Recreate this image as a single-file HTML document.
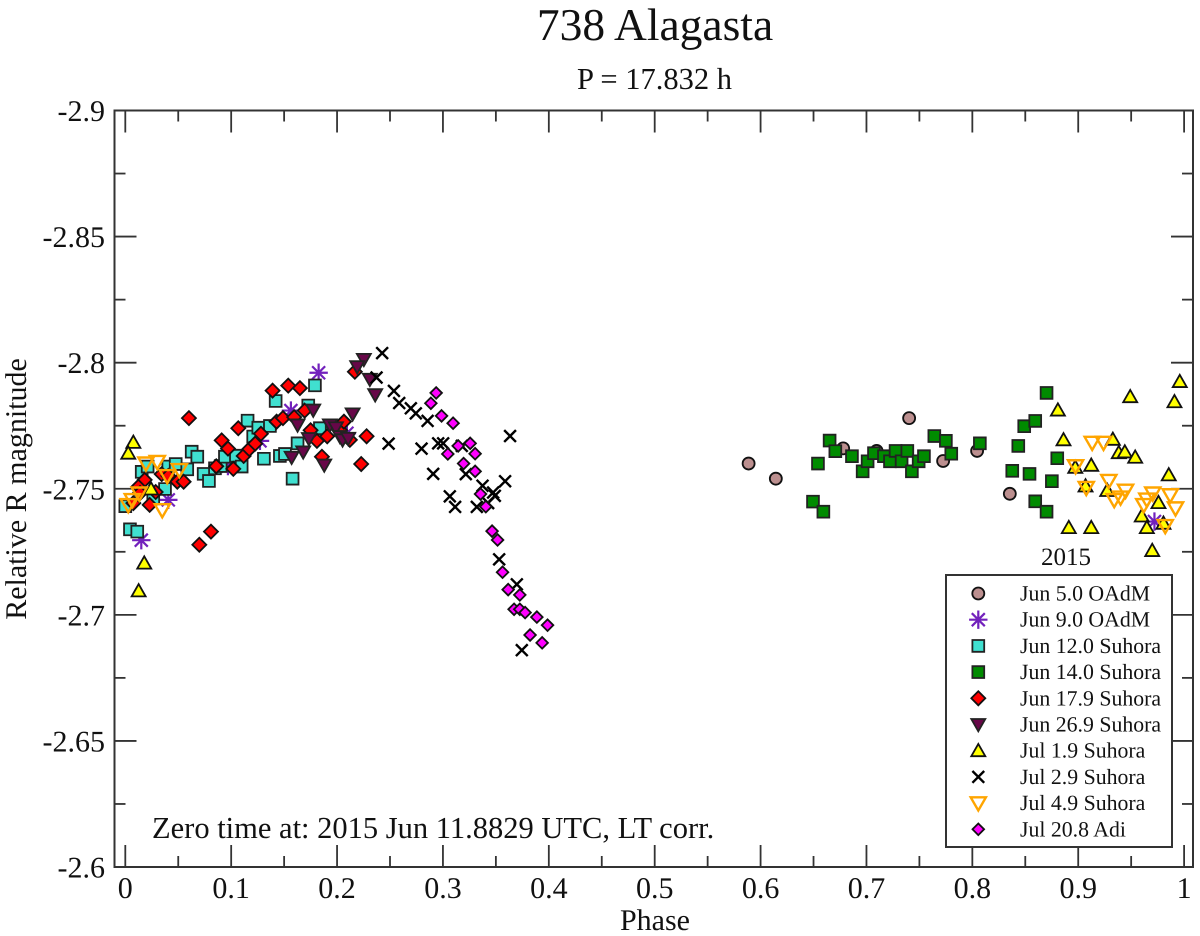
<!DOCTYPE html>
<html lang="en">
<head>
<meta charset="utf-8">
<title>738 Alagasta</title>
<style>
html,body{margin:0;padding:0;background:#fff;}
#chart{display:block;width:1200px;height:936px;}
text{font-family:"Liberation Serif",serif;fill:#111;text-rendering:geometricPrecision;}
</style>
</head>
<body>
<svg id="chart" xmlns="http://www.w3.org/2000/svg" width="1200" height="936" viewBox="0 0 1200 936">
<text x="655" y="40" font-size="45.5" text-anchor="middle">738 Alagasta</text>
<text x="654.5" y="89" font-size="30.5" text-anchor="middle" id="sub">P = 17.832 h</text>
<text x="655" y="930" font-size="30" text-anchor="middle">Phase</text>
<text x="0" y="0" font-size="30" text-anchor="middle" transform="translate(26 489) rotate(-90)">Relative R magnitude</text>
<text x="152" y="838" font-size="30.5">Zero time at: 2015 Jun 11.8829 UTC, LT corr.</text>
<text x="1066" y="565" font-size="25" text-anchor="middle">2015</text>
<g id="axes"></g>
<g id="marks"></g>
<g id="legend"><rect x="946" y="575" width="226" height="272" fill="#fff" stroke="#333" stroke-width="2"/></g>
</svg>
<script>
const xMajorTicks = [0, 0.1, 0.2, 0.3, 0.4, 0.5, 0.6, 0.7, 0.8, 0.9, 1];
const xTickLabels = ["0", "0.1", "0.2", "0.3", "0.4", "0.5", "0.6", "0.7", "0.8", "0.9", "1"];
const xMinorTicks = [0.05, 0.15, 0.25, 0.35, 0.45, 0.55, 0.65, 0.75, 0.85, 0.95];
const yMajorTicks = [-2.9, -2.85, -2.8, -2.75, -2.7, -2.65, -2.6];
const yTickLabels = ["-2.9", "-2.85", "-2.8", "-2.75", "-2.7", "-2.65", "-2.6"];
const yMinorTicks = [-2.875, -2.825, -2.775, -2.725, -2.675, -2.625];

const jun5Phase = [.5887, .6144, .678, .7096, .7403, .7724, .8045, .8354];
const jun5Mag = [-2.76, -2.754, -2.766, -2.765, -2.778, -2.761, -2.765, -2.748];

const jun9Phase = [.1826, .1564, .0406, .0151, .1272, .0969, .2093, .972];
const jun9Mag = [-2.796, -2.781, -2.7456, -2.7296, -2.769, -2.759, -2.772, -2.737];

const jun12Phase = [0, .0044, .0113, .0155, .0211, .0264, .0375, .0406, .0476, .0585, .0627, .068, .074, .079, .0847, .0901, .0941, .1045, .1099, .1155, .1208, .1256, .1309, .1366, .142, .146, .1508, .158, .1627, .1728, .1791, .1838];
const jun12Mag = [-2.7431, -2.7339, -2.733, -2.7567, -2.7588, -2.7462, -2.7499, -2.7588, -2.7598, -2.7577, -2.7647, -2.7627, -2.7559, -2.7531, -2.7581, -2.759, -2.7627, -2.7631, -2.7588, -2.777, -2.7707, -2.7742, -2.7619, -2.7749, -2.7848, -2.763, -2.7638, -2.754, -2.768, -2.783, -2.791, -2.774];

const jun14Phase = [.6495, .6593, .6542, .6652, .6706, .6863, .6964, .7011, .7071, .7165, .7222, .7275, .7332, .7386, .7429, .7493, .7543, .7641, .775, .7801, .8071, .8377, .854, .8434, .849, .8594, .8701, .8802, .8751, .8594, .8701];
const jun14Mag = [-2.7449, -2.7409, -2.76, -2.7691, -2.7649, -2.7629, -2.7569, -2.7609, -2.7641, -2.7629, -2.7609, -2.765, -2.7609, -2.765, -2.7569, -2.7609, -2.7629, -2.7709, -2.769, -2.7639, -2.768, -2.7571, -2.7559, -2.767, -2.7748, -2.7769, -2.788, -2.7621, -2.753, -2.745, -2.7409];

const jun18Phase = [.0183, .0123, .0076, .0139, .023, .0287, .0344, .0406, .0491, .0551, .0601, .0699, .0809, .0859, .091, .097, .102, .1067, .1118, .1171, .1227, .1281, .1391, .1429, .1489, .1539, .1595, .1649, .1694, .175, .181, .1857, .1907, .2027, .2065, .2121, .2168, .2228, .2279];
const jun18Mag = [-2.7535, -2.7508, -2.7443, -2.7483, -2.7436, -2.7487, -2.7558, -2.7551, -2.7528, -2.7528, -2.778, -2.7278, -2.733, -2.7589, -2.7692, -2.7659, -2.7579, -2.774, -2.763, -2.7657, -2.7679, -2.7718, -2.7889, -2.7766, -2.778, -2.7909, -2.7784, -2.7899, -2.781, -2.7732, -2.769, -2.7627, -2.7708, -2.7733, -2.7766, -2.7694, -2.7964, -2.7598, -2.7708];

const jun27Phase = [.1571, .168, .1627, .1734, .1775, .1879, .1932, .1989, .2027, .2052, .2105, .2147, .2253, .219, .231, .236];
const jun27Mag = [-2.7625, -2.7646, -2.7753, -2.7699, -2.7812, -2.7594, -2.7753, -2.7742, -2.7707, -2.7694, -2.77, -2.7797, -2.8013, -2.7984, -2.7934, -2.7873];

const jul1Phase = [.0076, .0028, .0243, .0179, .0126, .8808, .8861, .8972, .9123, .9069, .8911, .9123, .9274, .9327, .9383, .944, .9538, .9491, .9855, .9758, .96, .9648, .9805, .9699, .9959, .9909];
const jul1Mag = [-2.7684, -2.7641, -2.7499, -2.7205, -2.7095, -2.7812, -2.7694, -2.7585, -2.7593, -2.7511, -2.7346, -2.7346, -2.7493, -2.7696, -2.7643, -2.7646, -2.7625, -2.7865, -2.7555, -2.7445, -2.7392, -2.7346, -2.7363, -2.7255, -2.7925, -2.7845];

const jul2Phase = [.2426, .2373, .2537, .2587, .2697, .2744, .2855, .2487, .2798, .2955, .3002, .2908, .3216, .3065, .3115, .332, .3374, .3474, .349, .3427, .3587, .3634, .3531, .3698, .3745, .3178];
const jul2Mag = [-2.8038, -2.7941, -2.7888, -2.784, -2.7819, -2.7799, -2.7769, -2.7679, -2.7659, -2.768, -2.768, -2.7559, -2.7558, -2.747, -2.7428, -2.7428, -2.7512, -2.7485, -2.7472, -2.7443, -2.753, -2.7709, -2.722, -2.7121, -2.686, -2.767];

const jul4Phase = [.0028, .0066, .0132, .0195, .0302, .0349, .0396, .051, .8975, .9076, .9132, .9239, .9289, .934, .94, .9447, .9619, .9648, .9704, .9869, .9919, .9822];
const jul4Mag = [-2.7436, -2.7456, -2.7482, -2.7601, -2.7607, -2.7416, -2.7551, -2.7575, -2.759, -2.7504, -2.7683, -2.7683, -2.7532, -2.7456, -2.7466, -2.7493, -2.7436, -2.7458, -2.7482, -2.7475, -2.7423, -2.7353];

const jul20Phase = [.2936, .2886, .2987, .3096, .3144, .3257, .3046, .3304, .3195, .3304, .3355, .3405, .3464, .3516, .3563, .3616, .3726, .3672, .3726, .3776, .3887, .3988, .3823, .3937];
const jul20Mag = [-2.788, -2.7839, -2.7789, -2.776, -2.767, -2.768, -2.7638, -2.7639, -2.76, -2.7569, -2.7479, -2.7429, -2.7332, -2.7297, -2.7169, -2.71, -2.7079, -2.7022, -2.7022, -2.7009, -2.6991, -2.6959, -2.692, -2.6889];

const seriesLabels = ["Jun 5.0 OAdM", "Jun 9.0 OAdM", "Jun 12.0 Suhora", "Jun 14.0 Suhora", "Jun 17.9 Suhora", "Jun 26.9 Suhora", "Jul 1.9 Suhora", "Jul 2.9 Suhora", "Jul 4.9 Suhora", "Jul 20.8 Adi"];

const NS = "http://www.w3.org/2000/svg";
const xScale = p => 125.3 + p * 1058.8;
const yScale = m => 110.5 + (m + 2.9) * 2521.7;

const series = [
  {key: "jun-5", shape: "circle", fill: "#bc8f8f", stroke: "#111", xs: jun5Phase, ys: jun5Mag},
  {key: "jun-9", shape: "star", fill: "none", stroke: "#7221bc", xs: jun9Phase, ys: jun9Mag},
  {key: "jun-12", shape: "square", fill: "#40e0d0", stroke: "#222", xs: jun12Phase, ys: jun12Mag},
  {key: "jun-14", shape: "square", fill: "#008b00", stroke: "#222", xs: jun14Phase, ys: jun14Mag},
  {key: "jun-17", shape: "diamond", fill: "#ff0000", stroke: "#111", xs: jun18Phase, ys: jun18Mag},
  {key: "jun-26", shape: "down", fill: "#670748", stroke: "#222", xs: jun27Phase, ys: jun27Mag},
  {key: "jul-1", shape: "up", fill: "#ffff00", stroke: "#111", xs: jul1Phase, ys: jul1Mag},
  {key: "jul-2", shape: "cross", fill: "none", stroke: "#000", xs: jul2Phase, ys: jul2Mag},
  {key: "jul-4", shape: "hollow", fill: "none", stroke: "#ffa500", xs: jul4Phase, ys: jul4Mag},
  {key: "jul-20", shape: "smalldiamond", fill: "#ff00ff", stroke: "#111", xs: jul20Phase, ys: jul20Mag}
];

function el(tag, attrs, parent) {
  const e = document.createElementNS(NS, tag);
  for (const k in attrs) e.setAttribute(k, attrs[k]);
  parent.appendChild(e);
  return e;
}

function markPath(shape, x, y) {
  const f = n => n.toFixed(2);
  const poly = pts => "M" + pts.map(q => f(x + q[0]) + " " + f(y + q[1])).join("L") + "Z";
  switch (shape) {
    case "square": return poly([[-5.9, -5.9], [5.9, -5.9], [5.9, 5.9], [-5.9, 5.9]]);
    case "diamond": return poly([[0, -7], [7, 0], [0, 7], [-7, 0]]);
    case "smalldiamond": return poly([[0, -5.8], [5.8, 0], [0, 5.8], [-5.8, 0]]);
    case "down": return poly([[-7, -5.5], [7, -5.5], [0, 6.8]]);
    case "up": return poly([[-7, 5.5], [7, 5.5], [0, -6.8]]);
    case "hollow": return poly([[-7.6, -5.8], [7.6, -5.8], [0, 7.4]]);
    case "cross": return "M" + f(x - 5.9) + " " + f(y - 5.9) + "L" + f(x + 5.9) + " " + f(y + 5.9) + "M" + f(x + 5.9) + " " + f(y - 5.9) + "L" + f(x - 5.9) + " " + f(y + 5.9);
    case "star": {
      let d = "";
      for (let i = 0; i < 4; i++) {
        const a = i * Math.PI / 4, dx = 9.2 * Math.sin(a), dy = 9.2 * Math.cos(a);
        d += "M" + f(x - dx) + " " + f(y - dy) + "L" + f(x + dx) + " " + f(y + dy);
      }
      return d;
    }
  }
  return "";
}

function drawMark(s, px, py, parent) {
  let e;
  if (s.shape === "circle") {
    e = el("circle", {cx: px, cy: py, r: 6, fill: s.fill, stroke: s.stroke, "stroke-width": 1.8}, parent);
  } else {
    const sw = s.shape === "star" ? 2.2 : s.shape === "cross" ? 2.4 : s.shape === "hollow" ? 2.4 : 1.8;
    e = el("path", {d: markPath(s.shape, px, py), fill: s.fill, stroke: s.stroke, "stroke-width": sw, "stroke-linejoin": "miter"}, parent);
  }
  return e;
}

const axes = document.getElementById("axes");
const L = 114.5, R = 1193, T = 110.5, B = 867;

function tick(x1, y1, x2, y2, name) {
  const t = el("line", {x1: x1, y1: y1, x2: x2, y2: y2, stroke: "#333", "stroke-width": 1.8}, axes);
  
  
}

xMajorTicks.forEach((v, i) => {
  const x = xScale(v);
  tick(x, B, x, B - 22, "x-major-tick");
  tick(x, T, x, T + 22, "x-major-tick-top");
  const lab = el("text", {x: x, y: 898, "font-size": 30, "text-anchor": "middle"}, axes);
  
  
  lab.textContent = xTickLabels[i];
});
xMinorTicks.forEach(v => {
  const x = xScale(v);
  tick(x, B, x, B - 11, "x-minor-tick");
  tick(x, T, x, T + 11, "x-minor-tick-top");
});
yMajorTicks.forEach((v, i) => {
  const y = yScale(v);
  tick(L, y, L + 22, y, "y-major-tick");
  tick(R, y, R - 22, y, "y-major-tick-right");
  const lab = el("text", {x: 105, y: y + 10.5, "font-size": 30, "text-anchor": "end"}, axes);
  
  
  lab.textContent = yTickLabels[i];
});
yMinorTicks.forEach(v => {
  const y = yScale(v);
  tick(L, y, L + 11, y, "y-minor-tick");
  tick(R, y, R - 11, y, "y-minor-tick-right");
});
const frame = el("rect", {x: L, y: T, width: R - L, height: B - T, fill: "none", stroke: "#333", "stroke-width": 2}, axes);



const marks = document.getElementById("marks");
series.forEach(s => {
  const g = el("g", {}, marks);
  
  
  s.xs.forEach((p, i) => {
    const m = drawMark(s, xScale(p), yScale(s.ys[i]), g);
    
    
  });
});

const legend = document.getElementById("legend");
seriesLabels.forEach((label, i) => {
  const y = 593.5 + i * 26.2;
  const g = el("g", {}, legend);
  
  
  const m = drawMark(series[i], 978.3, y, g);
  
  
  const t = el("text", {x: 1020, y: y + 7, "font-size": 21.8}, g);
  
  
  t.textContent = label;
});
</script>
</body>
</html>
